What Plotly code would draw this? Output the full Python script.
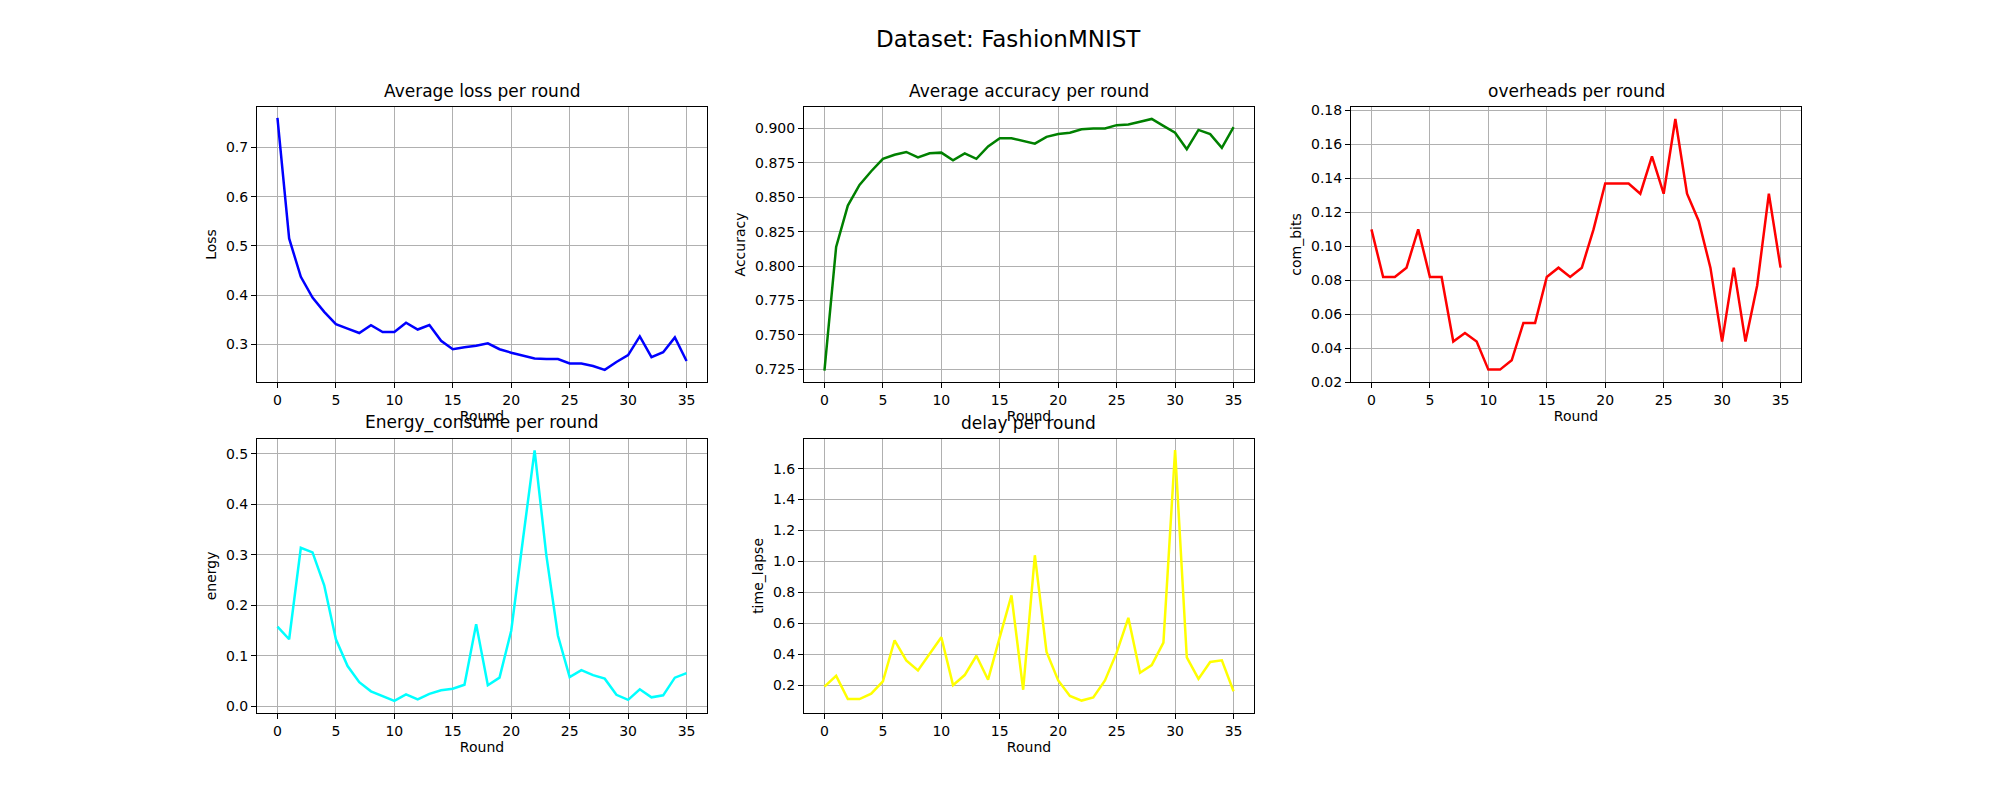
import plotly.graph_objects as go

# Données
rounds = list(range(36))
loss = [0.760, 0.515, 0.437, 0.395, 0.366, 0.341, 0.332, 0.323, 0.339, 0.325, 0.325, 0.344,
        0.330, 0.339, 0.307, 0.290, 0.294, 0.297, 0.302, 0.290, 0.283, 0.277, 0.271, 0.270,
        0.270, 0.261, 0.261, 0.256, 0.248, 0.264, 0.278, 0.316, 0.274, 0.284, 0.314, 0.266]
accuracy = [0.724, 0.814, 0.844, 0.859, 0.869, 0.878, 0.881, 0.883, 0.879, 0.882, 0.8825, 0.877,
            0.882, 0.878, 0.887, 0.893, 0.893, 0.891, 0.889, 0.894, 0.896, 0.897, 0.8995, 0.900,
            0.900, 0.9025, 0.903, 0.905, 0.907, 0.902, 0.897, 0.885, 0.899, 0.896, 0.886, 0.901]
com_bits = [0.110, 0.082, 0.082, 0.0875, 0.110, 0.082, 0.082, 0.044, 0.049, 0.044, 0.0275, 0.0275,
            0.033, 0.055, 0.055, 0.082, 0.0875, 0.082, 0.0875, 0.110, 0.137, 0.137, 0.137, 0.131,
            0.153, 0.131, 0.175, 0.131, 0.115, 0.0875, 0.044, 0.0875, 0.044, 0.077, 0.131, 0.0875]
energy = [0.158, 0.133, 0.314, 0.305, 0.240, 0.133, 0.080, 0.048, 0.030, 0.021, 0.011, 0.024,
          0.014, 0.025, 0.032, 0.035, 0.043, 0.163, 0.042, 0.057, 0.150, 0.330, 0.507, 0.300,
          0.140, 0.058, 0.072, 0.062, 0.055, 0.023, 0.013, 0.034, 0.018, 0.022, 0.057, 0.066]
time_lapse = [0.19, 0.26, 0.11, 0.11, 0.145, 0.225, 0.49, 0.36, 0.295, 0.40, 0.51, 0.20,
              0.265, 0.39, 0.235, 0.51, 0.78, 0.17, 1.04, 0.415, 0.23, 0.13, 0.10, 0.12,
              0.23, 0.41, 0.635, 0.28, 0.33, 0.475, 1.72, 0.38, 0.24, 0.35, 0.36, 0.16]

W, H = 2000, 800
font = "DejaVu Sans"

# (données, couleur, titre, label y, domaine x en px, domaine y en px, plage y, dtick)
panels = [
    (loss, "blue", "Average loss per round", "Loss", (249, 699), (96, 376), (0.2227, 0.783), 0.1),
    (accuracy, "green", "Average accuracy per round", "Accuracy", (796, 1246), (96, 376), (0.7155, 0.916), 0.025),
    (com_bits, "red", "overheads per round", "com_bits", (1343, 1793), (96, 376), (0.02, 0.1823), 0.02),
    (energy, "cyan", "Energy_consume per round", "energy", (249, 699), (433, 712), (-0.0136, 0.5305), 0.1),
    (time_lapse, "yellow", "delay per round", "time_lapse", (796, 1246), (433, 712), (0.0176, 1.795), 0.2),
]

fig = go.Figure()
annotations = []
for i, (vals, color, title, ylab, xd, yd, yr, dt) in enumerate(panels, start=1):
    sfx = "" if i == 1 else str(i)
    fig.add_trace(go.Scatter(x=rounds, y=vals, mode="lines", line=dict(color=color, width=2.5),
                             xaxis="x" + sfx, yaxis="y" + sfx, showlegend=False))
    ax = dict(showline=True, linecolor="black", linewidth=1, mirror=True, ticks="outside",
              ticklen=5, tickcolor="black", showgrid=True, gridcolor="#b0b0b0", gridwidth=1,
              zeroline=False, tickfont=dict(family=font, size=14, color="black"))
    fig.layout["xaxis" + sfx] = dict(ax, domain=[xd[0] / W, xd[1] / W], range=[-1.75, 36.75],
                                     dtick=5, tick0=0, anchor="y" + sfx,
                                     title=dict(text="Round", font=dict(family=font, size=14), standoff=4))
    fig.layout["yaxis" + sfx] = dict(ax, domain=[1 - yd[1] / H, 1 - yd[0] / H], range=list(yr),
                                     dtick=dt, anchor="x" + sfx,
                                     tickformat=".3f" if dt == 0.025 else (".2f" if dt == 0.02 else ".1f"),
                                     title=dict(text=ylab, font=dict(family=font, size=14), standoff=6))
    annotations.append(dict(text=title, x=(xd[0] + xd[1]) / 2 / W, y=1 - yd[0] / H + 0.005,
                            xref="paper", yref="paper", xanchor="center", yanchor="bottom",
                            showarrow=False, font=dict(family=font, size=17, color="black")))

annotations.append(dict(text="Dataset: FashionMNIST", x=0.5, y=1 - 27 / H, xref="paper", yref="paper",
                        xanchor="center", yanchor="middle", showarrow=False,
                        font=dict(family=font, size=23, color="black")))

fig.update_layout(width=W, height=H, margin=dict(l=0, r=0, t=0, b=0),
                  paper_bgcolor="white", plot_bgcolor="white", annotations=annotations,
                  font=dict(family=font, color="black"))

fig.write_html("out.html")
